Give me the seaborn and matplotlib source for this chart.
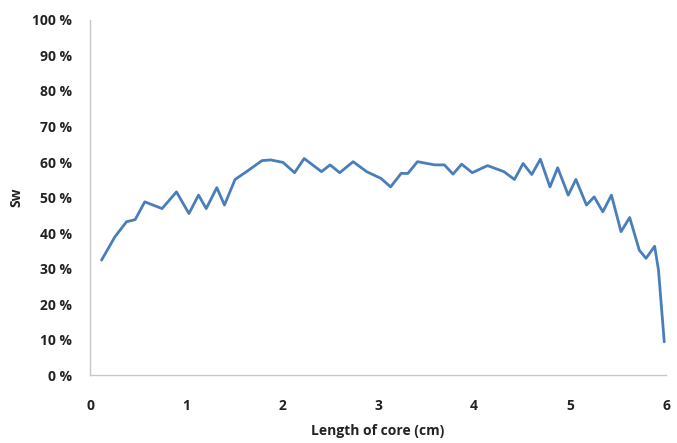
import numpy as np
import pandas as pd
import matplotlib
matplotlib.use("Agg")
import matplotlib.pyplot as plt
import seaborn as sns
from matplotlib.ticker import FuncFormatter

# values (length in cm, Sw in %)
length_cm = [0.12, 0.26, 0.38, 0.47, 0.57, 0.75, 0.90, 1.03, 1.13, 1.21, 1.32, 1.40,
             1.51, 1.63, 1.79, 1.88, 2.01, 2.13, 2.23, 2.41, 2.50, 2.60, 2.74, 2.88,
             3.03, 3.13, 3.24, 3.31, 3.41, 3.59, 3.69, 3.78, 3.87, 3.98, 4.14, 4.31,
             4.42, 4.51, 4.60, 4.69, 4.79, 4.87, 4.98, 5.06, 5.17, 5.25, 5.34, 5.43,
             5.53, 5.62, 5.72, 5.79, 5.88, 5.92, 5.98]
sw_pct = [32.4, 39.0, 43.2, 43.8, 48.8, 46.9, 51.6, 45.5, 50.7, 46.9, 52.8, 47.9,
          55.1, 57.3, 60.4, 60.6, 59.9, 57.0, 61.0, 57.3, 59.2, 57.0, 60.1, 57.3,
          55.4, 53.0, 56.8, 56.8, 60.1, 59.2, 59.2, 56.6, 59.4, 57.0, 59.0, 57.3,
          55.1, 59.6, 56.5, 60.8, 53.0, 58.4, 50.7, 55.1, 47.9, 50.2, 46.0, 50.7,
          40.4, 44.4, 35.2, 32.9, 36.3, 29.6, 9.4]
x_ticks = [0, 1, 2, 3, 4, 5, 6]
y_ticks = list(range(0, 101, 10))

df = pd.DataFrame({"length": length_cm, "sw": sw_pct})

sns.set_style("white")
plt.rcParams["font.family"] = ["Open Sans", "DejaVu Sans"]

fig = plt.figure(figsize=(6.77, 4.43), dpi=100)
ax = fig.add_axes([0.133, 0.153, 0.851, 0.802])

sns.lineplot(data=df, x="length", y="sw", ax=ax, color="#4a7ebb", linewidth=2)

ax.set_xlim(0, 6)
ax.set_ylim(0, 100)
ax.set_xticks(x_ticks)
ax.set_yticks(y_ticks)
ax.yaxis.set_major_formatter(FuncFormatter(lambda v, p: f"{int(v)} %"))

for s in ["top", "right"]:
    ax.spines[s].set_visible(False)
for s in ["left", "bottom"]:
    ax.spines[s].set_color("#c8c8c8")
    ax.spines[s].set_linewidth(1)

ax.tick_params(axis="both", length=0, labelsize=10, colors="#222222")
ax.tick_params(axis="y", pad=13)
ax.tick_params(axis="x", pad=17)
for lab in ax.get_xticklabels() + ax.get_yticklabels():
    lab.set_fontweight("bold")

ax.set_xlabel("Length of core (cm)", fontsize=10, fontweight="bold", color="#222222", labelpad=8)
ax.set_ylabel("Sw", fontsize=10, fontweight="bold", color="#222222", labelpad=6)

fig.savefig("out.png", dpi=100)
